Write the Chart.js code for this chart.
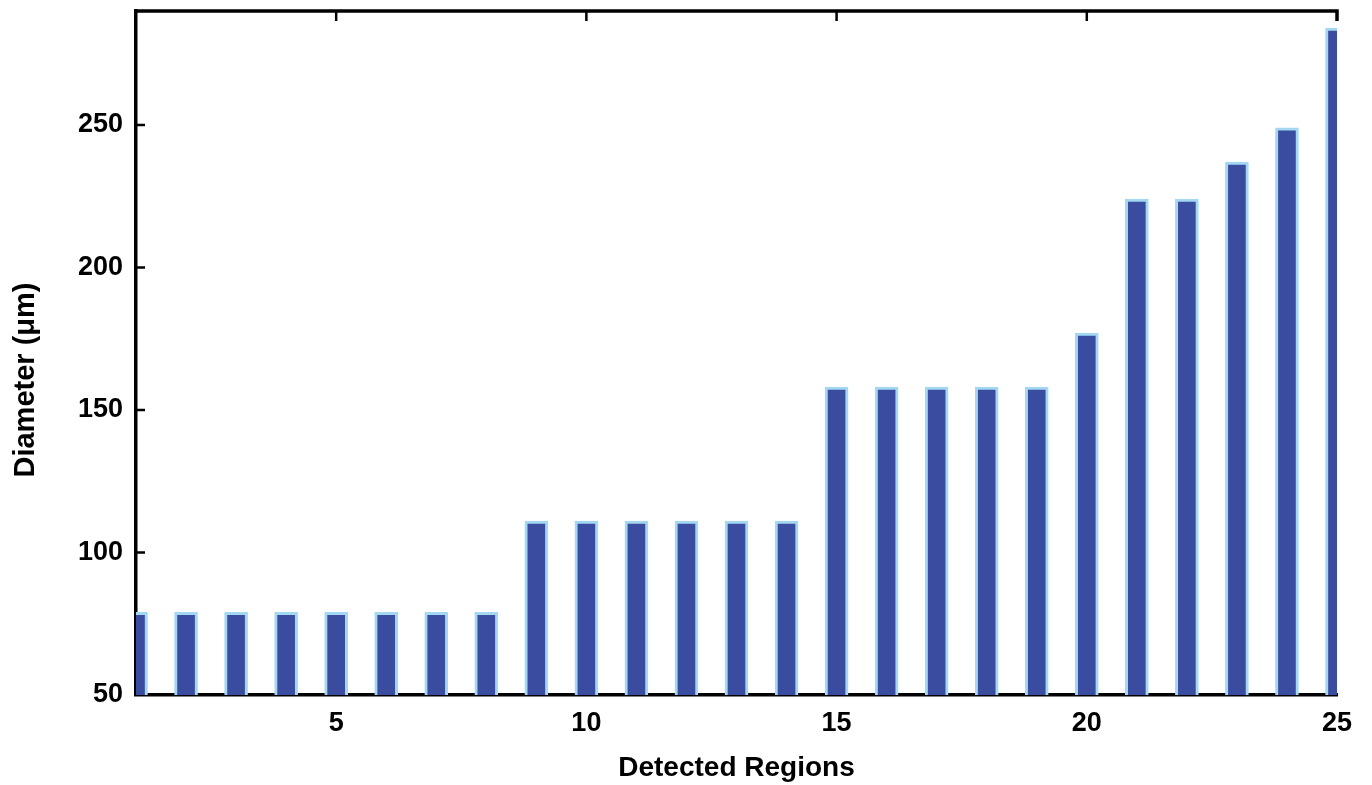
<!DOCTYPE html>
<html>
<head>
<meta charset="utf-8">
<script src="https://cdn.jsdelivr.net/npm/chart.js@4/dist/chart.umd.min.js"></script>
<style>
  html, body { margin: 0; padding: 0; background: #fff; }
  #wrap { width: 1372px; height: 785px; }
</style>
</head>
<body>
<div id="wrap"><canvas id="c" width="1372" height="785"></canvas></div>
<script>
const regions = ['1','2','3','4','5','6','7','8','9','10','11','12','13','14','15','16','17','18','19','20','21','22','23','24','25'];
const diameters = [79,79,79,79,79,79,79,79,111,111,111,111,111,111,158,158,158,158,158,177,224,224,237,249,284];
const xTickLabels = ['5','10','15','20','25'];
const yTickValues = [50,100,150,200,250];
const yMin = 50;
const yMax = 290;
const xTitle = 'Detected Regions';
const yTitle = 'Diameter (μm)';

const FONT = '"Liberation Sans", Arial, Helvetica, sans-serif';

const framePlugin = {
  id: 'frame',
  afterDatasetsDraw(chart) {
    const {ctx, chartArea, scales} = chart;
    const x = scales.x, y = scales.y;
    ctx.save();
    ctx.strokeStyle = '#000';
    ctx.lineWidth = 3.5;
    ctx.lineCap = 'butt';
    ctx.beginPath();
    ctx.moveTo(chartArea.left - 1.75, chartArea.top);
    ctx.lineTo(chartArea.right, chartArea.top);
    ctx.lineTo(chartArea.right, chartArea.top + 10);
    ctx.stroke();
    ctx.lineWidth = 2.5;
    yTickValues.forEach(v => {
      if (v === yMin) return;
      const py = y.getPixelForValue(v);
      ctx.beginPath();
      ctx.moveTo(chartArea.left, py);
      ctx.lineTo(chartArea.left + 9, py);
      ctx.stroke();
    });
    xTickLabels.forEach(lbl => {
      const idx = regions.indexOf(lbl);
      if (idx === regions.length - 1) return;
      const px = x.getPixelForValue(idx);
      ctx.beginPath();
      ctx.moveTo(px, chartArea.top);
      ctx.lineTo(px, chartArea.top + 10);
      ctx.stroke();
    });
    // y axis title
    ctx.fillStyle = '#000';
    ctx.font = 'bold 29px ' + FONT;
    ctx.textAlign = 'center';
    ctx.textBaseline = 'middle';
    ctx.translate(26, 380);
    ctx.rotate(-Math.PI / 2);
    ctx.fillText(yTitle, 0, 0);
    ctx.restore();
  }
};

new Chart(document.getElementById('c'), {
  type: 'bar',
  data: {
    labels: regions,
    datasets: [{
      data: diameters,
      backgroundColor: '#3a4c9f',
      borderColor: '#a4d8f2',
      borderWidth: 3,
      borderSkipped: false,
      barThickness: 23,
      clip: 0
    }]
  },
  options: {
    responsive: false,
    animation: false,
    devicePixelRatio: 1,
    layout: { padding: { left: 0, right: 35, top: 11, bottom: 0 } },
    plugins: {
      legend: { display: false },
      tooltip: { enabled: false }
    },
    scales: {
      x: {
        type: 'category',
        offset: false,
        grid: { display: true, drawOnChartArea: false, drawTicks: false },
        border: { display: true, color: '#000', width: 3.5 },
        ticks: {
          autoSkip: false,
          maxRotation: 0,
          padding: 12,
          color: '#000',
          font: { family: FONT, size: 27, weight: 'bold' },
          callback: function(val, idx) {
            const lbl = regions[idx];
            return xTickLabels.includes(lbl) ? lbl : null;
          }
        },
        title: {
          display: true,
          text: xTitle,
          color: '#000',
          font: { family: FONT, size: 28, weight: 'bold' },
          padding: { top: 3, bottom: 0 }
        },
        afterFit: s => { s.height = 90; }
      },
      y: {
        min: yMin,
        max: yMax,
        grid: { display: true, drawOnChartArea: false, drawTicks: false },
        border: { display: true, color: '#000', width: 3.5 },
        ticks: {
          stepSize: 50,
          padding: 13,
          color: '#000',
          font: { family: FONT, size: 27, weight: 'bold' },
          callback: v => yTickValues.includes(v) ? String(v) : null
        },
        title: { display: false },
        afterFit: s => { s.width = 136; s.paddingTop = 0; s.paddingBottom = 0; }
      }
    }
  },
  plugins: [framePlugin]
});
</script>
</body>
</html>
